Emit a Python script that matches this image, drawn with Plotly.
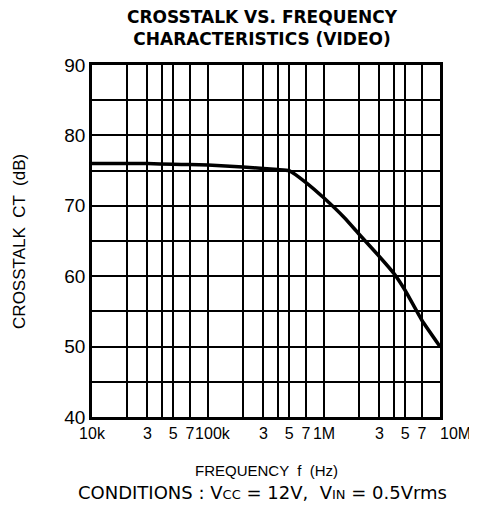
import plotly.graph_objects as go

# Data
freq_hz = [10e3, 20e3, 30e3, 50e3, 70e3, 100e3, 200e3, 300e3, 400e3, 500e3,
           700e3, 1e6, 1.5e6, 2e6, 3e6, 4e6, 5e6, 7e6, 10e6]
crosstalk_db = [76.0, 76.0, 76.0, 75.9, 75.85, 75.8, 75.5, 75.3, 75.15, 75.0,
                73.3, 71.1, 68.3, 66.0, 62.8, 60.4, 58.0, 53.7, 50.0]

x_grid_vals = [10e3, 20e3, 30e3, 40e3, 50e3, 70e3,
               100e3, 200e3, 300e3, 400e3, 500e3, 700e3,
               1e6, 2e6, 3e6, 4e6, 5e6, 7e6, 10e6]
NB = "\u00a0"
x_tick_text = ["10k", "", "3", "", "5", "7",
               NB * 2 + "100k", "", "3", "", "5", "7",
               "1M", "", "3", "", "5", "7", NB * 7 + "10M"]
y_tick_vals = [40, 45, 50, 55, 60, 65, 70, 75, 80, 85, 90]
y_tick_text = ["40", "", "50", "", "60", "", "70", "", "80", "", "90"]

FONT = "Liberation Sans, Arial, Helvetica, sans-serif"
WIDE = "DejaVu Sans, Verdana, sans-serif"

fig = go.Figure()
fig.add_trace(go.Scatter(
    x=freq_hz, y=crosstalk_db, mode="lines",
    line=dict(color="black", width=3.5, shape="spline", smoothing=0.4),
    showlegend=False, hoverinfo="skip"))

# the page body adds an 8px offset, margins compensate for it
fig.update_layout(
    width=477, height=514,
    margin=dict(l=84, r=45, t=57, b=105),
    paper_bgcolor="white", plot_bgcolor="white",
    font=dict(family=FONT, color="black"),
)
fig.update_xaxes(
    type="log", range=[4, 7], automargin=False,
    tickmode="array", tickvals=x_grid_vals, ticktext=x_tick_text, tickangle=0,
    showgrid=True, gridcolor="black", gridwidth=1.5,
    showline=True, linecolor="black", linewidth=2.5, mirror=True,
    ticks="", tickfont=dict(size=16, family=FONT, color="black"),
    zeroline=False,
)
fig.update_yaxes(
    range=[40, 90], automargin=False,
    tickmode="array", tickvals=y_tick_vals, ticktext=y_tick_text,
    showgrid=True, gridcolor="black", gridwidth=1.5,
    showline=True, linecolor="black", linewidth=2.5, mirror=True,
    ticks="", tickfont=dict(size=19, family=FONT, color="black"),
    zeroline=False,
)
fig.add_annotation(text="<b>CROSSTALK VS. FREQUENCY<br>CHARACTERISTICS (VIDEO)</b>",
                   xref="paper", yref="paper", x=0.49, y=1 + 37 / 352,
                   xanchor="center", yanchor="middle", showarrow=False,
                   font=dict(size=17, family=WIDE, color="black"))
fig.add_annotation(text="CROSSTALK  CT  (dB)", xref="paper", yref="paper",
                   x=-0.21, y=0.5, xanchor="center", yanchor="middle", textangle=-90,
                   showarrow=False, font=dict(size=17, family=FONT, color="black"))
fig.add_annotation(text="FREQUENCY  f  (Hz)", xref="paper", yref="paper",
                   x=0.5, y=-0.152, xanchor="center", yanchor="middle",
                   showarrow=False, font=dict(size=15, family=FONT, color="black"))
fig.add_annotation(
    text="CONDITIONS : V<span style='font-size:13px'>CC</span> = 12V,  V<span style='font-size:13px'>IN</span> = 0.5Vrms",
    xref="paper", yref="paper", x=0.49, y=-0.215, xanchor="center", yanchor="middle",
    showarrow=False, font=dict(size=18, family=WIDE, color="black"))

fig.write_html("out.html")
